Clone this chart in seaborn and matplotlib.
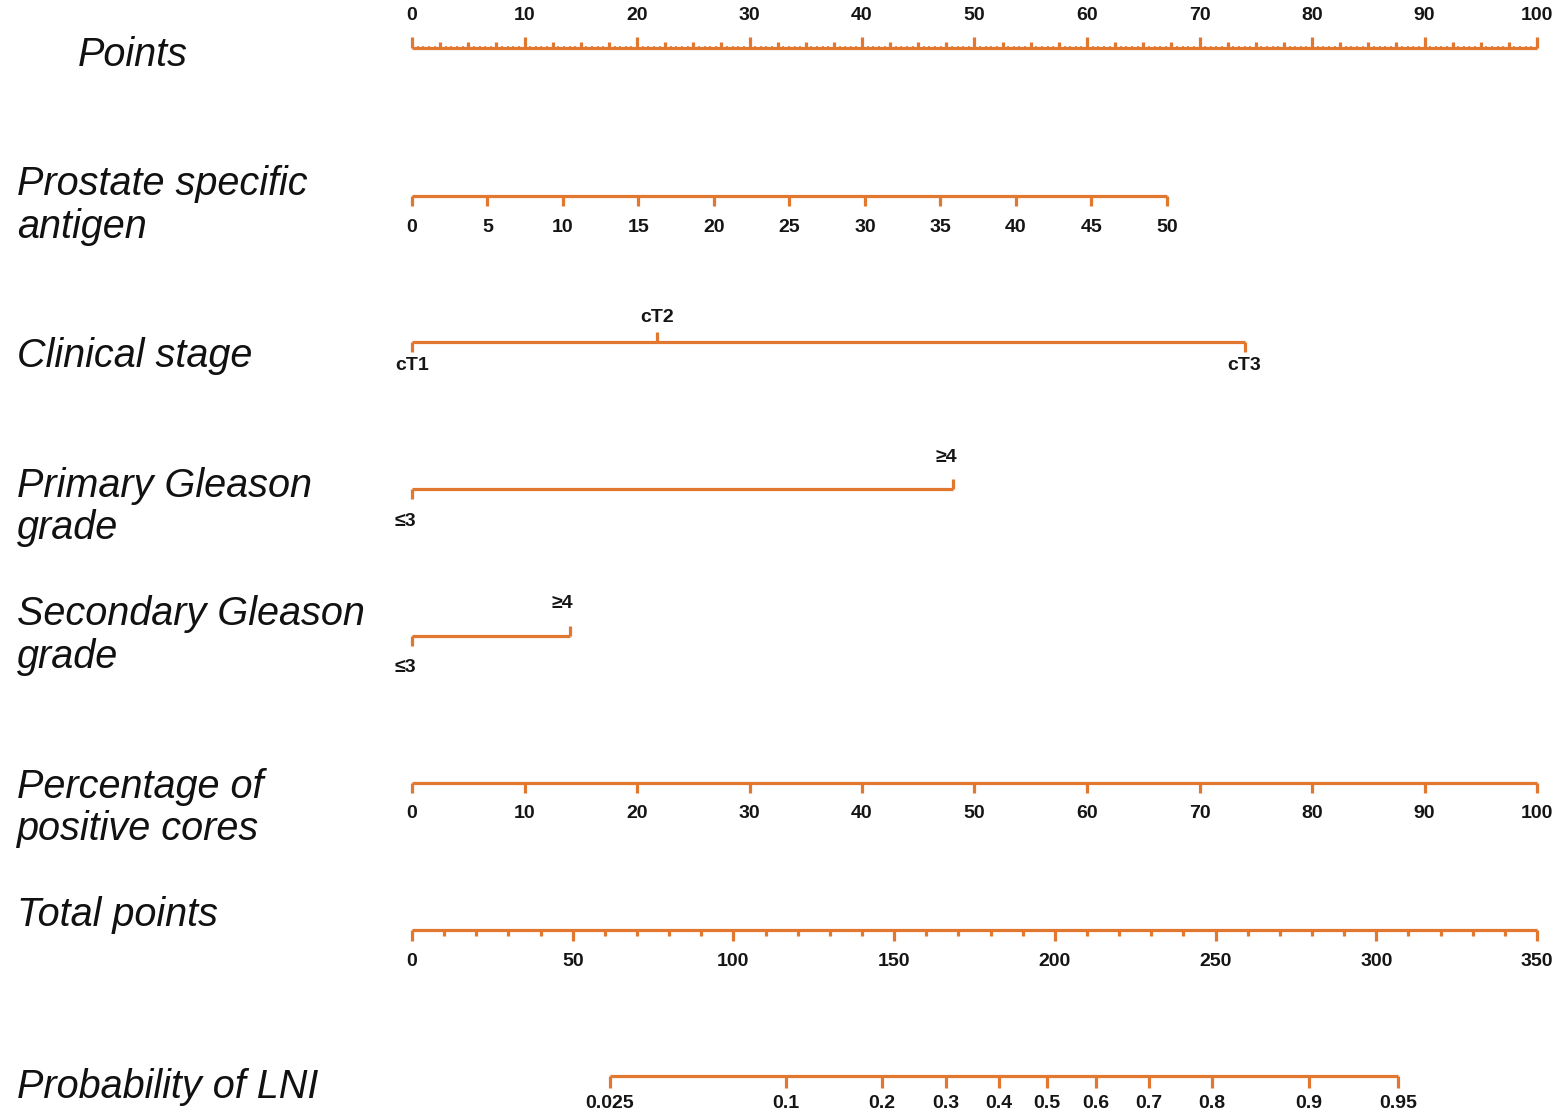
import seaborn as sns
import matplotlib.pyplot as plt

sns.set_theme(style="white")
plt.rcParams['font.family'] = ['Liberation Sans', 'DejaVu Sans']

orange = "#E2782F"

# values (positions in "Points" units 0-100)
points_ticks = list(range(0, 101, 10))
psa_ticks = list(range(0, 51, 5))
psa_max_points = 67.1
stage_labels = ["cT1", "cT2", "cT3"]
stage_points = [0, 21.8, 74.0]
primary_labels = ["≤3", "≥4"]
primary_points = [0, 48.1]
secondary_labels = ["≤3", "≥4"]
secondary_points = [0, 14.0]
cores_ticks = list(range(0, 101, 10))
total_ticks = list(range(0, 351, 50))
total_max = 350
prob_labels = ["0.025", "0.1", "0.2", "0.3", "0.4", "0.5", "0.6", "0.7", "0.8", "0.9", "0.95"]
prob_total_points = [61.6, 116.4, 146.2, 166.1, 182.6, 197.6, 212.8, 229.3, 248.9, 279.1, 306.8]

row_names = ["Points", "Prostate specific\nantigen", "Clinical stage", "Primary Gleason\ngrade",
             "Secondary Gleason\ngrade", "Percentage of\npositive cores", "Total points",
             "Probability of LNI"]

W, H = 1563, 1112
x0, ppu = 412, 11.25  # pixel of 0 points, pixels per point

fig = plt.figure(figsize=(W / 100, H / 100), dpi=100)
ax = fig.add_axes([0, 0, 1, 1])
ax.set_xlim(-x0 / ppu, (W - x0) / ppu)
ax.set_ylim(H, 0)
ax.axis("off")

lw = 2.3
tick_font = dict(fontsize=14, fontweight="bold", color="#151515", ha="center", va="center")


def px(x):
    return (x - x0) / ppu


def scale_row(y, pos, labels, up=None, tlen=10, off=31, dx=0.0):
    ax.hlines(y, min(pos), max(pos), color=orange, lw=lw)
    for i, (p, lab) in enumerate(zip(pos, labels)):
        d = -1 if (up is not None and up[i]) else 1
        ax.vlines(p, y, y + d * tlen, color=orange, lw=lw)
        if lab:
            ax.text(p + dx, y + d * off, lab, **tick_font)


# Points
y = 48
ax.hlines(y, 0, 100, color=orange, lw=lw)
for k in range(0, 201):
    v = k * 0.5
    if v % 10 == 0:
        L = 11
    elif v % 2.5 == 0:
        L = 6
    else:
        L = 2.5
    ax.vlines(v, y, y - L, color=orange, lw=lw if L > 3 else 1.2)
for v in points_ticks:
    ax.text(v, y - 32, str(v), **tick_font)

# Prostate specific antigen
scale_row(196, [t / psa_ticks[-1] * psa_max_points for t in psa_ticks], [str(t) for t in psa_ticks])

# Clinical stage
scale_row(342, stage_points, stage_labels, up=[False, True, False], off=24)

# Primary Gleason grade
scale_row(489, primary_points, primary_labels, up=[False, True], off=32, dx=-0.6)

# Secondary Gleason grade
scale_row(636, secondary_points, secondary_labels, up=[False, True], off=32, dx=-0.6)

# Percentage of positive cores
scale_row(783, cores_ticks, [str(t) for t in cores_ticks])

# Total points
y = 930
ax.hlines(y, 0, 100, color=orange, lw=lw)
for t in range(0, total_max + 1, 10):
    L = 11 if t % 50 == 0 else 6
    ax.vlines(t / total_max * 100, y, y + L, color=orange, lw=lw)
for t in total_ticks:
    ax.text(t / total_max * 100, y + 31, str(t), **tick_font)

# Probability of LNI
scale_row(1076, [p / total_max * 100 for p in prob_total_points], prob_labels, tlen=12, off=27)

# row names
name_pos = [(78, [55]), (17, [184, 227]), (17, [356]), (17, [486, 528]),
            (17, [614, 657]), (17, [787, 829]), (17, [915]), (17, [1087])]
for name, (xp, ys) in zip(row_names, name_pos):
    for line, yy in zip(name.split("\n"), ys):
        ax.text(px(xp), yy, line, fontsize=28.5, fontstyle="italic", color="#111111",
                ha="left", va="center")

fig.savefig("out.png", dpi=100, facecolor="white")
